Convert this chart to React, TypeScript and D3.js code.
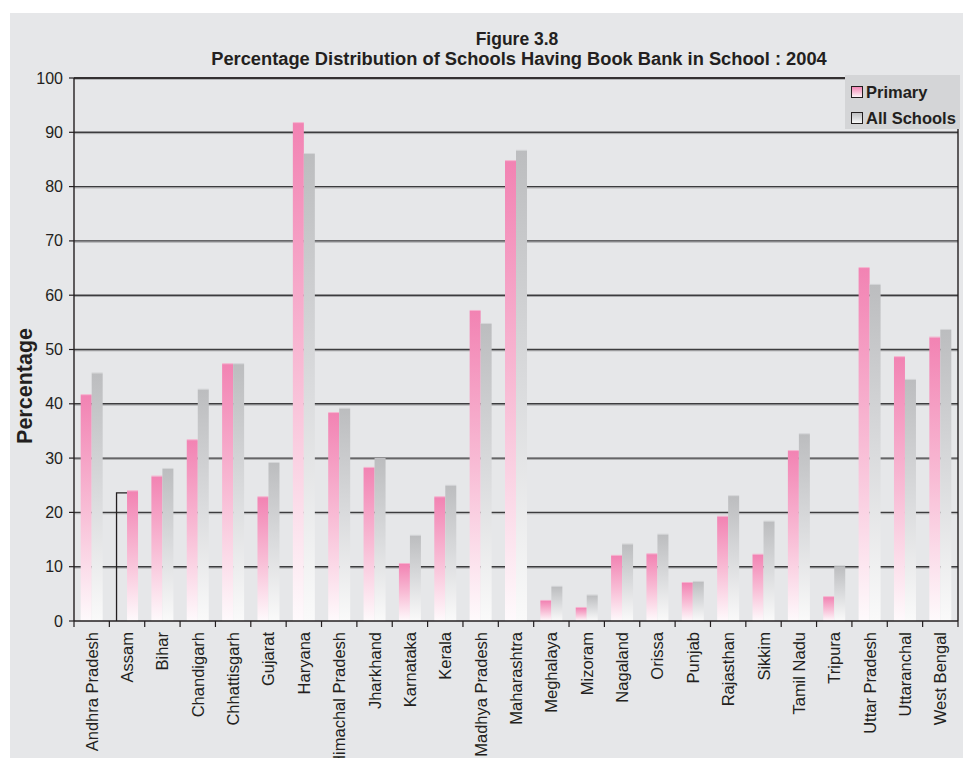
import React from "react";
import * as d3 from "d3";

const categories = [
  "Andhra Pradesh", "Assam", "Bihar", "Chandigarh", "Chhattisgarh", "Gujarat",
  "Haryana", "Himachal Pradesh", "Jharkhand", "Karnataka", "Kerala",
  "Madhya Pradesh", "Maharashtra", "Meghalaya", "Mizoram", "Nagaland",
  "Orissa", "Punjab", "Rajasthan", "Sikkim", "Tamil Nadu", "Tripura",
  "Uttar Pradesh", "Uttaranchal", "West Bengal",
];
const primary = [
  41.6, 23.6, 26.6, 33.3, 47.3, 22.8, 91.7, 38.3, 28.2, 10.5, 22.8,
  57.1, 84.7, 3.7, 2.4, 12.0, 12.3, 7.0, 19.2, 12.2, 31.3, 4.4,
  65.0, 48.6, 52.2,
];
const allSchools = [
  45.6, 23.9, 28.0, 42.6, 47.3, 29.1, 86.0, 39.1, 29.8, 15.7, 24.9,
  54.7, 86.6, 6.3, 4.7, 14.1, 15.9, 7.2, 23.0, 18.3, 34.4, 10.1,
  61.9, 44.4, 53.6,
];
const yTicks = [0, 10, 20, 30, 40, 50, 60, 70, 80, 90, 100];
const seriesNames = ["Primary", "All Schools"];

const W = 966;
const H = 765;
const left = 74;
const right = 958;
const top = 78;
const bottom = 621;
const FONT = "'Liberation Sans', Arial, Helvetica, sans-serif";

export default function App() {
  const x = d3.scaleBand<string>().domain(categories).range([left, right]);
  const y = d3.scaleLinear().domain([0, 100]).range([bottom, top]);
  const bw = x.bandwidth();
  const barW = 11;
  const offset = (bw - 2 * barW) / 2;

  return (
    <svg
      width={W}
      height={H}
      style={{ position: "absolute", left: 0, top: 0, display: "block" }}
      fontFamily={FONT}
    >
      <defs>
        <linearGradient id="gPink" x1="0" y1="0" x2="0" y2="1">
          <stop offset="0" stopColor="#f283b3" />
          <stop offset="0.5" stopColor="#f8bcd5" />
          <stop offset="1" stopColor="#fefafc" />
        </linearGradient>
        <linearGradient id="gGrey" x1="0" y1="0" x2="0" y2="1">
          <stop offset="0" stopColor="#bcbdbf" />
          <stop offset="0.5" stopColor="#dadbdd" />
          <stop offset="1" stopColor="#fafafa" />
        </linearGradient>
        <clipPath id="panelClip">
          <rect x={10} y={13} width={953} height={745} />
        </clipPath>
      </defs>
      <rect x={0} y={0} width={W} height={H} fill="#ffffff" />
      <rect x={10} y={13} width={953} height={745} fill="#e6e7e9" />

      {/* title */}
      <text x={517} y={44.5} textAnchor="middle" fontWeight="bold" fontSize={17.5} fill="#231f20">
        Figure 3.8
      </text>
      <text x={519} y={65} textAnchor="middle" fontWeight="bold" fontSize={18.3} fill="#231f20">
        Percentage Distribution of Schools Having Book Bank in School : 2004
      </text>

      {/* gridlines */}
      {yTicks.filter((t) => t > 0).map((t) => (
        <g key={"g" + t}>
          <line x1={left} x2={right} y1={y(t) + 1.3} y2={y(t) + 1.3} stroke="#a8a9ab" strokeWidth={1} />
          <line x1={left} x2={right} y1={y(t)} y2={y(t)} stroke="#3c3c3e" strokeWidth={1.4} />
        </g>
      ))}
      <line x1={right} x2={right} y1={top} y2={bottom} stroke="#231f20" strokeWidth={1.4} />

      {/* bars */}
      {categories.map((c, i) => {
        const x0 = (x(c) as number) + offset;
        const odd = c === "Assam";
        const p = primary[i];
        const a = allSchools[i];
        return (
          <g key={c}>
            {odd ? (
              <path
                d={`M${x0 + 0.5},${bottom} V${y(p)} H${x0 + barW}`}
                fill="none"
                stroke="#231f20"
                strokeWidth={1.3}
              />
            ) : (
              <>
                <rect x={x0} y={y(p) - 1} width={barW} height={1} fill="#f5b3cf" />
                <rect x={x0} y={y(p)} width={barW} height={bottom - y(p)} fill="url(#gPink)" />
              </>
            )}
            <rect x={x0 + barW} y={y(a) - 1} width={barW} height={1} fill={odd ? "#f5b3cf" : "#d4d5d7"} />
            <rect
              x={x0 + barW}
              y={y(a)}
              width={barW}
              height={bottom - y(a)}
              fill={odd ? "url(#gPink)" : "url(#gGrey)"}
            />
          </g>
        );
      })}

      {/* axes */}
      <line x1={left} x2={left} y1={top} y2={bottom} stroke="#231f20" strokeWidth={1.4} />
      <line x1={left} x2={right} y1={top} y2={top} stroke="#231f20" strokeWidth={1.4} />
      <line x1={left} x2={right} y1={bottom} y2={bottom} stroke="#231f20" strokeWidth={1.4} />
      {yTicks.map((t) => (
        <g key={"t" + t}>
          <line x1={left - 5} x2={left} y1={y(t)} y2={y(t)} stroke="#231f20" strokeWidth={1.2} />
          <text x={63} y={y(t) + 5.5} textAnchor="end" fontSize={16} fill="#231f20">
            {t}
          </text>
        </g>
      ))}
      {categories.map((c) => (
        <line
          key={"xt" + c}
          x1={(x(c) as number)}
          x2={(x(c) as number)}
          y1={bottom}
          y2={bottom + 6}
          stroke="#231f20"
          strokeWidth={1.2}
        />
      ))}
      <line x1={right} x2={right} y1={bottom} y2={bottom + 6} stroke="#231f20" strokeWidth={1.2} />

      <g clipPath="url(#panelClip)">
        {categories.map((c) => {
          const cx = (x(c) as number) + bw / 2;
          return (
            <text
              key={"xl" + c}
              transform={`translate(${cx + 6},632) rotate(-90)`}
              textAnchor="end"
              fontSize={16.5}
              fill="#231f20"
            >
              {c}
            </text>
          );
        })}
      </g>

      <text
        transform={`translate(32,386) rotate(-90)`}
        textAnchor="middle"
        fontWeight="bold"
        fontSize={21.5}
        fill="#231f20"
      >
        Percentage
      </text>

      {/* legend */}
      <rect x={845} y={75} width={115} height={54} fill="#d4d5d7" />
      {seriesNames.map((s, i) => (
        <g key={s} transform={`translate(851,${86 + i * 26})`}>
          <rect x={0.5} y={0.5} width={11} height={11} fill={i === 0 ? "url(#gPink)" : "url(#gGrey)"} stroke="#231f20" strokeWidth={1} />
          <text x={15} y={11.5} fontSize={16.5} fontWeight="bold" fill="#231f20">
            {s}
          </text>
        </g>
      ))}
    </svg>
  );
}
